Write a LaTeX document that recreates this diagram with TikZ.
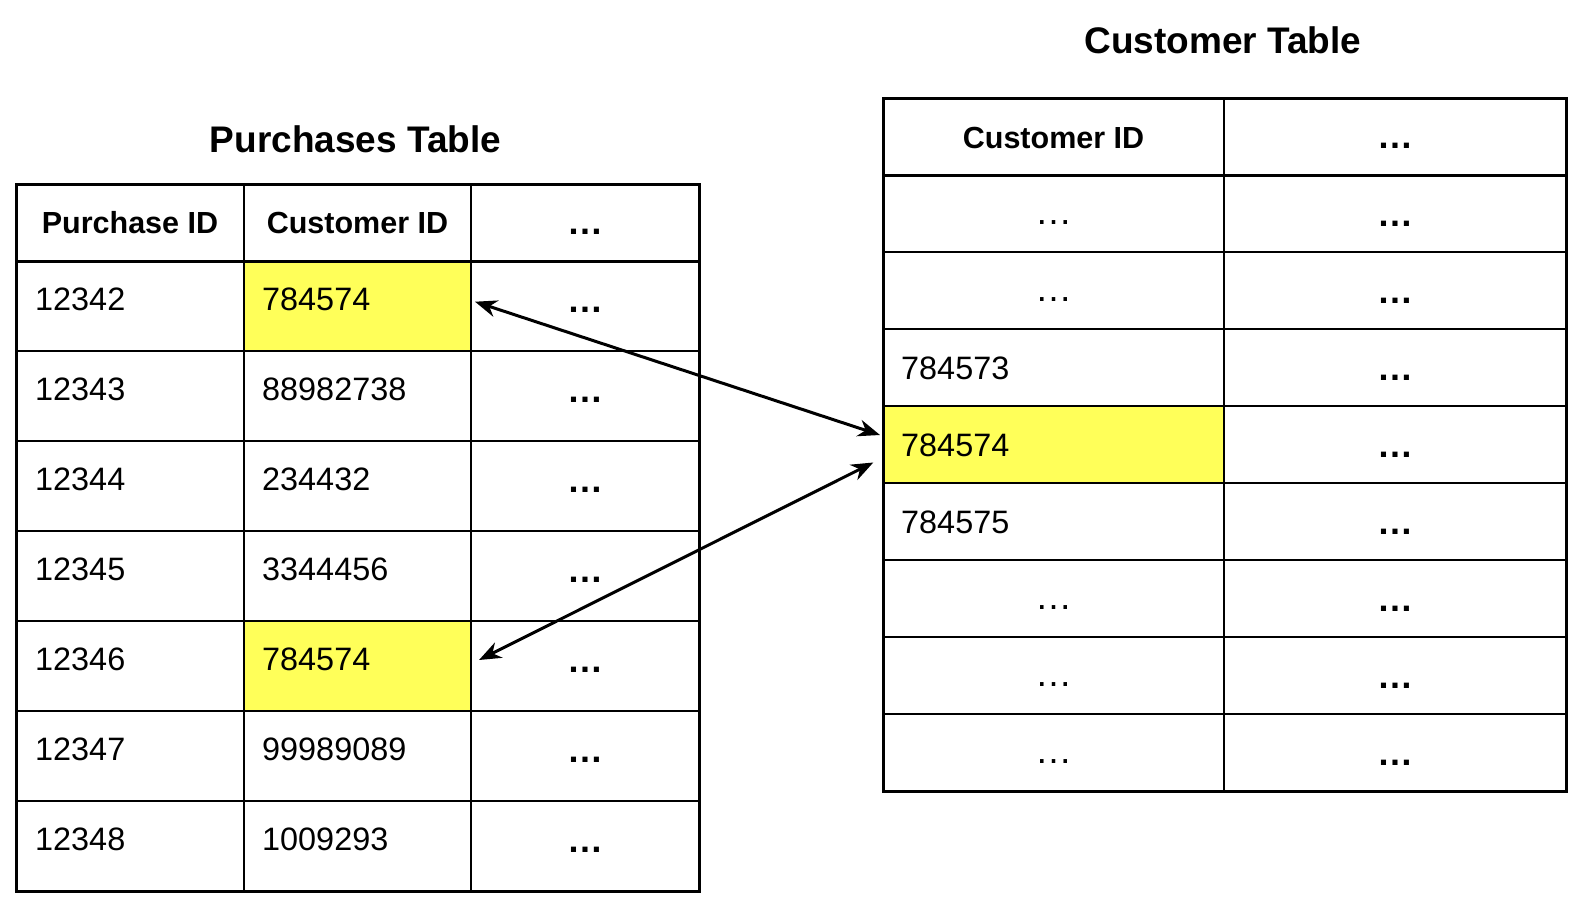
\documentclass[tikz,border=0pt]{standalone}
\usepackage{fontspec}
\setmainfont{Liberation Sans}
\usetikzlibrary{arrows.meta}
\definecolor{hl}{HTML}{FFFF59}
\tikzset{
  cell/.style={rectangle, draw=black, line width=1.7pt, inner sep=0pt, outer sep=0pt, anchor=north west},
  outerline/.style={draw=black, line width=3pt, line join=miter},
  L12/.style={fill=hl}, L52/.style={fill=hl}, R41/.style={fill=hl},
  title/.style={font=\bfseries\fontsize{37}{44}\selectfont, inner sep=0pt, anchor=base},
  head/.style={font=\bfseries\fontsize{30.5}{36}\selectfont, inner sep=0pt, anchor=base},
  body/.style={font=\fontsize{32.4}{38}\selectfont, inner sep=0pt, anchor=base west},
  bdots/.style={font=\bfseries\fontsize{36}{42}\selectfont, inner sep=0pt, anchor=base},
  rdots/.style={font=\fontsize{37}{44}\selectfont, inner sep=0pt, anchor=base},
  connector/.style={draw=black, line width=3pt,
    arrows={Stealth[length=22pt,width=17pt,inset=7pt]-Stealth[length=22pt,width=17pt,inset=7pt]}}
}
\begin{document}
\begin{tikzpicture}[x=1pt,y=-1pt]
\useasboundingbox (0,0) rectangle (1586,908);

% ---------- Purchases table ----------
\node[title] (ptitle) at (355.5,152) {Purchases Table};
\foreach \c/\x/\w in {1/16/228, 2/244/227, 3/471/228} {
  \node[cell, minimum width=\w pt, minimum height=77pt] (L-0-\c) at (\x,184) {};
  \foreach \r in {1,...,7} {
    \pgfmathsetmacro\y{261+90*(\r-1)}
    \node[cell, L\r\c/.try, minimum width=\w pt, minimum height=90pt] (L-\r-\c) at (\x,\y) {};
  }
}
\draw[outerline] (L-0-1.north west) rectangle (L-7-3.south east);
\draw[outerline] (L-0-1.south west) -- (L-0-3.south east);

\node[head] (lh1) at (130,233) {Purchase ID};
\node[head] (lh2) at (357.5,233) {Customer ID};
\node[bdots] (lh3) at (585,234) {…};

\foreach \r/\a/\b in {1/12342/784574, 2/12343/88982738, 3/12344/234432, 4/12345/3344456,
                      5/12346/784574, 6/12347/99989089, 7/12348/1009293} {
  \pgfmathsetmacro\y{261+90*(\r-1)}
  \node[body] (la-\r) at (35,\y+49) {\a};
  \node[body] (lb-\r) at (262,\y+49) {\b};
  \node[bdots] (lc-\r) at (585,\y+51) {…};
}

% ---------- Customer table ----------
\node[title] (ctitle) at (1223,53) {Customer Table};
\foreach \c/\x/\w in {1/883/341, 2/1224/342} {
  \node[cell, minimum width=\w pt, minimum height=77pt] (R-0-\c) at (\x,98) {};
  \foreach \r in {1,...,8} {
    \pgfmathsetmacro\y{175+77*(\r-1)}
    \node[cell, R\r\c/.try, minimum width=\w pt, minimum height=77pt] (R-\r-\c) at (\x,\y) {};
  }
}
\draw[outerline] (R-0-1.north west) rectangle (R-8-2.south east);
\draw[outerline] (R-0-1.south west) -- (R-0-2.south east);

\node[head] (rh1) at (1053.5,148) {Customer ID};
\node[bdots] (rh2) at (1395,148) {…};

\foreach \r in {1,2,6,7,8} {
  \pgfmathsetmacro\y{175+77*(\r-1)}
  \node[rdots] (ra-\r) at (1053.5,\y+49) {…};
}
\foreach \r/\v in {3/784573, 4/784574, 5/784575} {
  \pgfmathsetmacro\y{175+77*(\r-1)}
  \node[body] (ra-\r) at (901,\y+50) {\v};
}
\foreach \r in {1,...,8} {
  \pgfmathsetmacro\y{175+77*(\r-1)}
  \node[bdots] (rb-\r) at (1395,\y+51) {…};
}

% ---------- connectors ----------
\draw[connector] ([shift={(4,-4.3)}]L-1-2.east) -- ([shift={(-3,-9.5)}]R-4-1.west);
\draw[connector] ([shift={(8,-6)}]L-5-2.east) -- ([shift={(-9.7,18)}]R-4-1.west);
\end{tikzpicture}
\end{document}
